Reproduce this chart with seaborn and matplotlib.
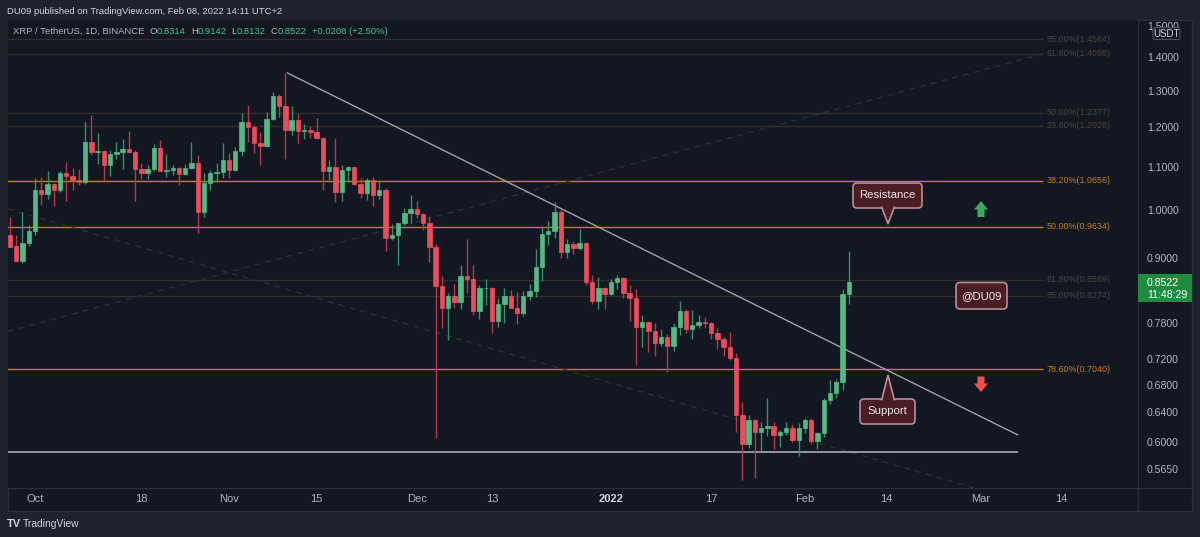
import matplotlib
matplotlib.use("Agg")
import matplotlib.pyplot as plt
import matplotlib.dates as mdates
from matplotlib.patches import FancyBboxPatch, Polygon, Rectangle
from matplotlib.ticker import FixedLocator, FixedFormatter, NullLocator
import numpy as np
import pandas as pd
import seaborn as sns

# ---- daily XRP/USDT candles (first candle 2021-09-27) ----
first_day = "2021-09-27"
opens = [
    .946, .924, .893, .930, .955, 1.045, 1.036, 1.058, 1.045, 1.085,
    1.077, 1.068, 1.063, 1.162, 1.136, 1.139, 1.103, 1.130, 1.136, 1.143,
    1.136, 1.095, 1.084, 1.093, 1.147, 1.089, 1.092, 1.096, 1.082, 1.097,
    1.109, .995, 1.061, 1.084, 1.087, 1.116, 1.092, 1.138, 1.213, 1.201,
    1.159, 1.152, 1.222, 1.286, 1.257, 1.191, 1.218, 1.190, 1.192, 1.188,
    1.172, 1.089, 1.098, 1.041, 1.092, 1.098, 1.058, 1.037, 1.068, 1.033,
    1.045, .940, .947, .971, .992, 1.001, .991, .972, .922, .846,
    .805, .827, .816, .864, .859, .800, .841, .842, .782, .812,
    .827, .806, .797, .827, .836, .881, .948, .955, .996, .912,
    .927, .920, .930, .852, .818, .841, .830, .853, .861, .833,
    .824, .773, .781, .765, .746, .755, .740, .772, .800, .769,
    .775, .781, .779, .762, .752, .739, .721, .637, .597, .629,
    .613, .619, .621, .609, .613, .619, .602, .619, .630, .601,
    .612, .657, .668, .684, .8314,
]
highs = [
    .984, .946, .996, .966, 1.072, 1.076, 1.090, 1.060, 1.090, 1.111,
    1.097, 1.095, 1.212, 1.232, 1.184, 1.140, 1.141, 1.162, 1.168, 1.190,
    1.142, 1.109, 1.103, 1.155, 1.166, 1.130, 1.104, 1.099, 1.106, 1.162,
    1.128, 1.084, 1.092, 1.109, 1.158, 1.134, 1.148, 1.238, 1.260, 1.205,
    1.187, 1.241, 1.297, 1.291, 1.353, 1.257, 1.235, 1.207, 1.203, 1.223,
    1.173, 1.116, 1.172, 1.104, 1.101, 1.100, 1.073, 1.073, 1.076, 1.068,
    1.049, .969, .972, 1.005, 1.033, 1.020, .993, .987, .927, .864,
    .833, .849, .886, .938, .886, .847, .859, .843, .823, .841,
    .838, .834, .836, .850, .917, .964, .976, 1.018, 1.001, .937,
    .934, .958, .931, .866, .862, .843, .858, .867, .862, .847,
    .839, .793, .783, .779, .769, .760, .779, .818, .803, .802,
    .793, .790, .781, .770, .756, .764, .729, .655, .636, .631,
    .626, .660, .626, .615, .626, .624, .625, .632, .632, .613,
    .660, .688, .689, .840, .9142,
]
lows = [
    .921, .892, .889, .924, .946, 1.010, 1.023, 1.008, 1.040, 1.020,
    1.045, 1.056, 1.059, 1.129, 1.105, 1.066, 1.078, 1.119, 1.093, 1.133,
    1.020, 1.069, 1.069, 1.090, 1.088, 1.076, 1.080, 1.055, 1.079, 1.093,
    .950, .984, 1.045, 1.064, 1.072, 1.072, 1.088, 1.127, 1.162, 1.134,
    1.103, 1.148, 1.219, 1.226, 1.119, 1.180, 1.158, 1.170, 1.172, 1.168,
    1.045, 1.062, 1.017, 1.020, 1.062, 1.056, 1.027, 1.022, 1.009, 1.025,
    .914, .936, .885, .966, .972, .982, .957, .892, .605, .770,
    .750, .806, .804, .833, .793, .787, .811, .762, .773, .779,
    .805, .778, .791, .820, .826, .855, .925, .939, .900, .900,
    .907, .915, .848, .813, .804, .804, .829, .839, .823, .782,
    .710, .739, .731, .724, .741, .699, .733, .759, .762, .753,
    .770, .770, .752, .736, .725, .718, .613, .551, .592, .554,
    .588, .607, .591, .593, .609, .599, .582, .612, .597, .590,
    .606, .652, .661, .672, .8132,
]
closes = [
    .922, .893, .930, .955, 1.045, 1.036, 1.058, 1.045, 1.085, 1.077,
    1.068, 1.063, 1.162, 1.136, 1.139, 1.103, 1.130, 1.136, 1.143, 1.136,
    1.095, 1.084, 1.093, 1.147, 1.089, 1.092, 1.096, 1.082, 1.097, 1.109,
    .995, 1.061, 1.084, 1.087, 1.116, 1.092, 1.138, 1.213, 1.201, 1.159,
    1.152, 1.222, 1.286, 1.257, 1.191, 1.218, 1.190, 1.192, 1.188, 1.172,
    1.089, 1.098, 1.041, 1.092, 1.098, 1.058, 1.037, 1.068, 1.033, 1.045,
    .940, .947, .971, .992, 1.001, .991, .972, .922, .846, .805,
    .827, .816, .864, .859, .800, .841, .842, .782, .812, .827,
    .806, .797, .827, .836, .881, .948, .955, .996, .912, .927,
    .920, .930, .852, .818, .841, .830, .853, .861, .833, .824,
    .773, .781, .765, .746, .755, .740, .772, .800, .769, .775,
    .781, .779, .762, .752, .739, .721, .637, .597, .629, .613,
    .619, .621, .609, .613, .619, .602, .619, .630, .601, .612,
    .657, .668, .684, .8314, .8522,
]

# fibonacci levels drawn on the chart
fib_pcts = ["65.00%", "61.80%", "50.00%", "23.60%", "38.20%", "50.00%", "61.80%", "65.00%", "78.60%"]
fib_vals = [1.4564, 1.4098, 1.2377, 1.2028, 1.0656, 0.9634, 0.8569, 0.8274, 0.7040]
fib_bright = [False, False, False, False, True, True, False, False, True]
fib_end = "2022-03-11"

support_level = 0.5862
support_end = "2022-03-07"
trend_pts = [("2021-11-10 07:00", 1.352), ("2022-03-07", 0.609)]
dash_up_pts = [("2021-09-26 16:00", 0.765), ("2022-03-11", 1.4098)]
dash_dn_pts = [("2021-09-26 16:00", 1.002), ("2022-03-08", 0.525)]

price_ticks = [1.5, 1.4, 1.3, 1.2, 1.1, 1.0, 0.9, 0.78, 0.72, 0.68, 0.64, 0.60, 0.565]
date_ticks = ["2021-10-01", "2021-10-18", "2021-11-01", "2021-11-15", "2021-12-01", "2021-12-13",
              "2022-01-01", "2022-01-17", "2022-02-01", "2022-02-14", "2022-03-01", "2022-03-14"]
date_labels = ["Oct", "18", "Nov", "15", "Dec", "13", "2022", "17", "Feb", "14", "Mar", "14"]

# ---- colours ----
PANE = "#131722"
OUTER = "#1e222d"
BORDER = "#2a2e39"
UP, DOWN = "#53b987", "#eb4d5c"
UP_WICK, DOWN_WICK = "#3a8f68", "#b33a4a"
TXT = "#b2b5be"
FIB_HI, FIB_LO = "#c47f17", "#332e29"
FIB_LO_TXT = "#4a423b"
CALL_FC, CALL_EC = "#4a1d24", "#b98f94"

sns.set_theme(style="dark", rc={"axes.facecolor": PANE, "figure.facecolor": OUTER})
plt.rcParams["font.family"] = ["Liberation Sans", "DejaVu Sans"]

W, H = 1200, 537
fig = plt.figure(figsize=(12, 5.37), dpi=100, facecolor=OUTER)

# pane chrome (pixel coordinates)
bg = fig.add_axes([0, 0, 1, 1], zorder=-1)
bg.set_xlim(0, W)
bg.set_ylim(H, 0)
bg.axis("off")
bg.add_patch(Rectangle((7.5, 20), 1184.5, 491, facecolor=PANE, edgecolor=BORDER, lw=1))
bg.plot([1138, 1138], [20, 511], color=BORDER, lw=1)
bg.plot([7.5, 1192], [488, 488], color=BORDER, lw=1)

ax = fig.add_axes([8 / W, 1 - 488 / H, 1130 / W, 468 / H])
ax.set_facecolor(PANE)
for s in ax.spines.values():
    s.set_visible(False)
ax.grid(False)

df = pd.DataFrame({"date": pd.date_range(first_day, periods=len(opens), freq="D"),
                   "open": opens, "high": highs, "low": lows, "close": closes})
df["x"] = mdates.date2num(df["date"])
df["up"] = df["close"] >= df["open"]

x0 = mdates.date2num(pd.Timestamp("2021-10-01"))
ax.set_xlim(x0 - 4.31, x0 + 176.2)
ax.set_yscale("log")
ax.set_ylim(0.5418, 1.519)


def dnum(s):
    return mdates.date2num(pd.Timestamp(s))


# fib levels
for pct, val, bright in zip(fib_pcts, fib_vals, fib_bright):
    ax.hlines(val, x0 - 5, dnum(fib_end), color=FIB_HI if bright else FIB_LO, lw=1, zorder=1)
    ax.text(dnum(fib_end) + 0.6, val, f"{pct}({val:.4f})", color=FIB_HI if bright else FIB_LO_TXT,
            fontsize=6.4, va="center", ha="left", zorder=1)

# dashed fib trend lines
for pts in (dash_up_pts, dash_dn_pts):
    ax.plot([dnum(p[0]) for p in pts], [p[1] for p in pts], color="#2b2f3a", lw=1,
            ls=(0, (4, 4)), zorder=1)

# support and trend line
ax.hlines(support_level, x0 - 5, dnum(support_end), color="#9ea1aa", lw=1.3, zorder=2)
ax.plot([dnum(p[0]) for p in trend_pts], [p[1] for p in trend_pts], color="#9ea1aa", lw=1, zorder=2)

# candles
for is_up, body_c, wick_c in ((True, UP, UP_WICK), (False, DOWN, DOWN_WICK)):
    d = df[df["up"] == is_up]
    ax.vlines(d["x"], d["low"], d["high"], color=wick_c, lw=1, zorder=3)
    bottom = np.minimum(d["open"], d["close"])
    height = np.abs(d["close"] - d["open"])
    ax.bar(d["x"], height, bottom=bottom, width=0.7, color=body_c, edgecolor=body_c,
           lw=0.5, zorder=4)

# axes ticks
ax.yaxis.tick_right()
ax.yaxis.set_major_locator(FixedLocator(price_ticks))
ax.yaxis.set_major_formatter(FixedFormatter([f"{v:.4f}" for v in price_ticks]))
ax.yaxis.set_minor_locator(NullLocator())
ax.tick_params(axis="y", which="both", length=0, pad=6.5, labelsize=7.6, labelcolor=TXT)
ax.set_xticks([dnum(t) for t in date_ticks])
ax.set_xticklabels(date_labels)
ax.tick_params(axis="x", length=0, pad=4.5, labelsize=8, labelcolor=TXT)
ax.get_xticklabels()[6].set_fontweight("bold")
ax.get_xticklabels()[6].set_color("#d1d4dc")

# overlay: labels, callouts, header
ov = fig.add_axes([0, 0, 1, 1], zorder=5)
ov.set_xlim(0, W)
ov.set_ylim(H, 0)
ov.axis("off")
ov.patch.set_alpha(0)


def callout(x0_, y0_, x1_, y1_, tip_y, text):
    ov.add_patch(FancyBboxPatch((x0_, y0_), x1_ - x0_, y1_ - y0_,
                                boxstyle="round,pad=0,rounding_size=4",
                                fc=CALL_FC, ec=CALL_EC, lw=1.2))
    cx = 888
    base = y1_ - 1.5 if tip_y > y1_ else y0_ + 1.5
    ov.add_patch(Polygon([(cx - 6.5, base), (cx, tip_y), (cx + 6.5, base)], closed=False,
                         fc=CALL_FC, ec=CALL_EC, lw=1.2))
    ov.text((x0_ + x1_) / 2, (y0_ + y1_) / 2, text, color="#ece4e4", fontsize=8.2,
            ha="center", va="center")


callout(853, 183, 922, 208, 224, "Resistance")
callout(860, 399, 915, 424, 375, "Support")
ov.add_patch(FancyBboxPatch((956, 282.5), 51, 26.5, boxstyle="round,pad=0,rounding_size=4",
                            fc=CALL_FC, ec=CALL_EC, lw=1.2))
ov.text(981.5, 296, "@DU09", color="#ece4e4", fontsize=8.2, ha="center", va="center")

ov.add_patch(Polygon([(981, 201), (974, 209.5), (977.5, 209.5), (977.5, 217), (984.5, 217),
                      (984.5, 209.5), (988, 209.5)], closed=True, fc="#3fa860", ec="none"))
ov.add_patch(Polygon([(981, 392), (974, 383.5), (977.5, 383.5), (977.5, 376.5), (984.5, 376.5),
                      (984.5, 383.5), (988, 383.5)], closed=True, fc="#f0504c", ec="none"))

# last price tag
ov.add_patch(Rectangle((1138, 274), 54, 28, fc="#1e8c3f", ec="none"))
ov.text(1147, 282.5, f"{closes[-1]:.4f}", color="white", fontsize=7.6, va="center", ha="left")
ov.text(1147, 294.5, "11:48:29", color="white", fontsize=7.6, va="center", ha="left")

# currency badge
ov.add_patch(FancyBboxPatch((1153, 27.5), 27, 12, boxstyle="round,pad=0,rounding_size=2",
                            fc=PANE, ec="#50535e", lw=0.8))
ov.text(1166.5, 33.7, "USDT", color="#d1d4dc", fontsize=7, ha="center", va="center")

# header
ov.text(7, 11, "DU09 published on TradingView.com, Feb 08, 2022 14:11 UTC+2", color="#d1d4dc",
        fontsize=6.8, va="center", ha="left")
renderer = fig.canvas.get_renderer()
GREEN_TXT = "#4fbf8a"
parts = [("XRP / TetherUS, 1D, BINANCE", "#b2b5be", 5), ("O", "#b2b5be", 0),
         (f"{opens[-1]:.4f}", GREEN_TXT, 5), ("H", "#b2b5be", 0), (f"{highs[-1]:.4f}", GREEN_TXT, 5),
         ("L", "#b2b5be", 0), (f"{lows[-1]:.4f}", GREEN_TXT, 5), ("C", "#b2b5be", 0),
         (f"{closes[-1]:.4f}", GREEN_TXT, 5), ("+0.0208 (+2.50%)", GREEN_TXT, 0)]
xpos = 13
for s, c, gap in parts:
    t = ov.text(xpos, 31, s, color=c, fontsize=6.8, va="center", ha="left")
    xpos += t.get_window_extent(renderer).width + gap

# footer logo
ov.text(7, 524, "TV", color="#d1d4dc", fontsize=8, fontweight="bold", va="center", ha="left")
ov.text(23, 524, "TradingView", color="#d1d4dc", fontsize=7.4, va="center", ha="left")

fig.savefig("out.png", dpi=100, facecolor=OUTER)
